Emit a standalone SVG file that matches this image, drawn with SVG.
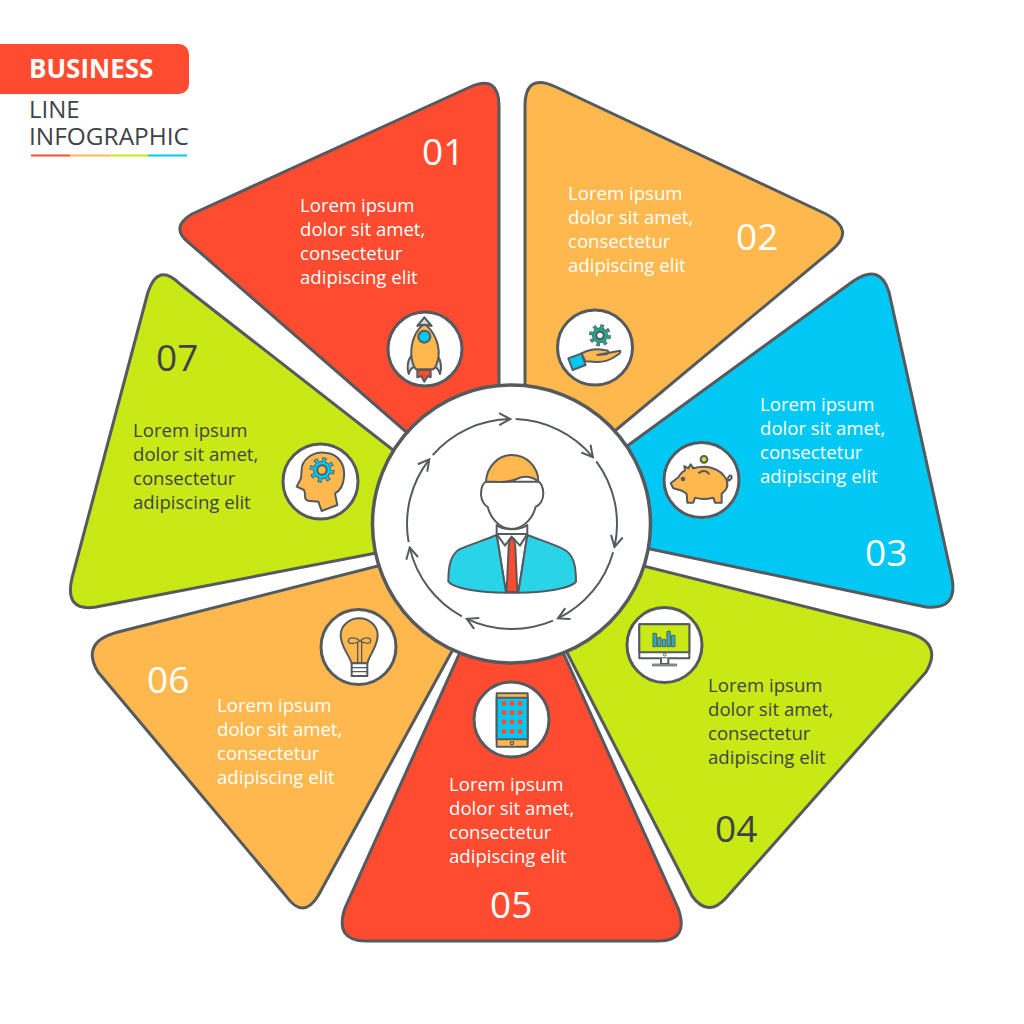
<svg xmlns="http://www.w3.org/2000/svg" xmlns:xlink="http://www.w3.org/1999/xlink" width="1024" height="1024" viewBox="0 0 1024 1024">
<style>
.seg{stroke:#555a5f;stroke-width:3;stroke-linejoin:round}
.red{fill:#ff4b2f}.org{fill:#ffb84d}.blu{fill:#00c8f5}.grn{fill:#c8e916}
.t{font-family:"Open Sans","Liberation Sans",sans-serif;font-size:18.6px}
.n{font-family:"Open Sans","Liberation Sans",sans-serif;font-size:37px}
.w{fill:#fff}.d{fill:#3f4347}
.ic{fill:#fff;stroke:#555a5f;stroke-width:3}
.i *{stroke:#555a5f;stroke-width:6;stroke-linejoin:round}
.arc{fill:none;stroke:#555a5f;stroke-width:2;marker-end:url(#ah)}
</style>
<defs>
<marker id="ah" viewBox="0 0 14 14" refX="12" refY="7" markerWidth="14" markerHeight="14" markerUnits="userSpaceOnUse" orient="auto"><path d="M1 1L12 7L1 13" fill="none" stroke="#555a5f" stroke-width="2"/></marker>
<g id="gear">
<circle r="26" fill="none" stroke="#555a5f" style="stroke-width:14" stroke-dasharray="10 10.42"/>
<circle r="24" fill="#555a5f" style="stroke:none"/>
<circle r="26" fill="none" stroke="currentColor" style="stroke:currentColor;stroke-width:10" stroke-dasharray="6 14.42" stroke-dashoffset="-2"/>
<circle r="21.5" fill="currentColor" style="stroke:none"/>
</g>
</defs>
<rect width="1024" height="1024" fill="#fff"/>

<g id="title">
<rect x="-12" y="44" width="201" height="50" rx="10" fill="#ff4b2f"/>
<text x="29" y="78" font-family="Open Sans,Liberation Sans,sans-serif" font-weight="700" font-size="26" fill="#fff">BUSINESS</text>
<text x="29" y="118" font-family="Open Sans,Liberation Sans,sans-serif" font-size="24" fill="#3f4347">LINE</text>
<text x="29" y="145" font-family="Open Sans,Liberation Sans,sans-serif" font-size="24" fill="#3f4347" textLength="160" lengthAdjust="spacingAndGlyphs">INFOGRAPHIC</text>
<path d="M31 155.500H70" stroke="#ff4b2f" stroke-width="2"/><path d="M70 155.500H110" stroke="#ffb84d" stroke-width="2"/><path d="M110 155.500H148" stroke="#c8e916" stroke-width="2"/><path d="M148 155.500H187" stroke="#00c8f5" stroke-width="2"/>
</g>

<g id="node1">
<path class="seg red" d="M499 400V106Q499 74 470 87L192 214Q170 227 188 242L450 470Z"/>
<text class="n w" x="422" y="165">01</text>
<text class="t w"><tspan x="300" y="212">Lorem ipsum</tspan><tspan x="300" y="236">dolor sit amet,</tspan><tspan x="300" y="260">consectetur</tspan><tspan x="300" y="284">adipiscing elit</tspan></text>
<circle class="ic" cx="425" cy="349" r="37"/>
<g class="i" transform="translate(380 300) scale(.3333)">
<path fill="#d9dcdc" d="M96 165C82 180 80 205 86 222C90 205 100 200 108 200Z"/><path fill="#d9dcdc" d="M170 165C184 180 186 205 180 222C176 205 166 200 158 200Z"/>
<path fill="#ff4b2f" d="M112 210H152V232L143 228L133 245L124 228L112 232Z"/>
<path fill="#ffb84d" d="M133 72C105 90 92 130 94 165C95 190 105 205 108 208H160C165 205 175 185 176 165C178 130 160 90 133 72Z"/>
<path fill="#d9dcdc" d="M112 78L133 52L155 78Q133 70 112 78Z"/>
<circle cx="133" cy="110" r="18" fill="#00c8f5"/>
</g>
</g>

<g id="node2">
<path class="seg org" d="M525 400V106Q525 72 556 87L826 214Q856 230 832 250L580 460Z"/>
<text class="n w" x="736" y="250">02</text>
<text class="t w"><tspan x="568" y="200">Lorem ipsum</tspan><tspan x="568" y="224">dolor sit amet,</tspan><tspan x="568" y="248">consectetur</tspan><tspan x="568" y="272">adipiscing elit</tspan></text>
<circle class="ic" cx="595" cy="347.500" r="37.500"/>
<g class="i" transform="translate(380 300) scale(.3333)">
<use href="#gear" x="660" y="106" color="#1fa98c"/><circle cx="660" cy="106" r="11" fill="#fff"/>
<path fill="#00c8f5" d="M565 175L605 160L617 195L578 210Z"/>
<path fill="#ffb84d" d="M605 160C625 150 650 145 672 150C688 150 690 160 678 163L652 165L720 152Q726 158 708 168C690 180 670 190 640 185L616 184Z"/>
</g>
</g>

<g id="node3">
<path class="seg blu" d="M560 495L852 282Q880 262 889 292L952 578Q958 610 926 607L560 530Z"/>
<text class="n w" x="865" y="566">03</text>
<text class="t w"><tspan x="760" y="411">Lorem ipsum</tspan><tspan x="760" y="435">dolor sit amet,</tspan><tspan x="760" y="459">consectetur</tspan><tspan x="760" y="483">adipiscing elit</tspan></text>
<circle class="ic" cx="701.500" cy="480" r="37.500"/>
<g class="i" transform="translate(650 430) scale(.3333)">
<circle cx="162" cy="88" r="10" fill="#c8e916"/>
<path fill="none" d="M232 148Q240 130 245 140Q245 150 232 152"/>
<path fill="#ffb84d" d="M62 160L85 142C95 125 105 122 105 122L103 108L115 115L122 103L130 115C165 105 210 110 230 150C238 175 222 185 215 192L215 218H195L190 203C170 208 150 208 135 203L130 218H112L110 192C100 180 80 178 70 175Z"/>
<circle cx="99" cy="147" r="4" fill="#ffb84d"/><path fill="none" d="M145 130Q165 115 178 133"/>
</g>
</g>

<g id="node4">
<path class="seg grn" d="M540 540L906 632Q944 642 926 672L726 898Q708 918 692 896L540 600Z"/>
<text class="n d" x="715" y="842">04</text>
<text class="t d"><tspan x="708" y="692">Lorem ipsum</tspan><tspan x="708" y="716">dolor sit amet,</tspan><tspan x="708" y="740">consectetur</tspan><tspan x="708" y="764">adipiscing elit</tspan></text>
<circle class="ic" cx="664.500" cy="645" r="37.500"/>
<g class="i" transform="translate(615 600) scale(.3333)">
<rect x="73" y="73" width="150" height="102" fill="#fff"/><rect x="73" y="73" width="150" height="84" fill="#c8e916"/>
<path fill="#29b6c9" d="M114 100h10v40h-10zM128 113h10v27h-10zM142 119h10v21h-10zM156 94h10v46h-10zM170 106h10v34h-10z" style="stroke-width:3"/>
<circle cx="149" cy="164" r="4" fill="#fff" style="stroke-width:3"/>
<path fill="#fff" d="M138 175V192H160V175"/><rect x="112" y="192" width="73" height="6" fill="#9b9fa2" style="stroke-width:2"/>
</g>
</g>

<g id="node5">
<path class="seg red" d="M470 630L345 908Q334 941 366 941H658Q690 941 678 908L553 630Z"/>
<text class="n w" x="490" y="918">05</text>
<text class="t w"><tspan x="449" y="791">Lorem ipsum</tspan><tspan x="449" y="815">dolor sit amet,</tspan><tspan x="449" y="839">consectetur</tspan><tspan x="449" y="863">adipiscing elit</tspan></text>
<circle class="ic" cx="511.500" cy="719.500" r="37.500"/>
<g class="i" transform="translate(465 675) scale(.3333)">
<rect x="95" y="55" width="93" height="160" fill="#ffb84d"/><rect x="95" y="68" width="93" height="125" fill="#00c8f5"/>
<g fill="#ff4b2f"><rect x="110" y="78" width="14" height="14" rx="3" style="stroke:none"/><rect x="134" y="78" width="14" height="14" rx="3" style="stroke:none"/><rect x="158" y="78" width="14" height="14" rx="3" style="stroke:none"/><rect x="110" y="106" width="14" height="14" rx="3" style="stroke:none"/><rect x="134" y="106" width="14" height="14" rx="3" style="stroke:none"/><rect x="158" y="106" width="14" height="14" rx="3" style="stroke:none"/><rect x="110" y="134" width="14" height="14" rx="3" style="stroke:none"/><rect x="134" y="134" width="14" height="14" rx="3" style="stroke:none"/><rect x="158" y="134" width="14" height="14" rx="3" style="stroke:none"/><rect x="110" y="162" width="14" height="14" rx="3" style="stroke:none"/><rect x="134" y="162" width="14" height="14" rx="3" style="stroke:none"/><rect x="158" y="162" width="14" height="14" rx="3" style="stroke:none"/></g>
<circle cx="141" cy="204" r="5" fill="#ffb84d" style="stroke-width:4"/>
</g>
</g>

<g id="node6">
<path class="seg org" d="M480 540L118 632Q80 642 98 672L286 896Q303 920 318 896L480 600Z"/>
<text class="n w" x="147" y="693">06</text>
<text class="t w"><tspan x="217" y="712">Lorem ipsum</tspan><tspan x="217" y="736">dolor sit amet,</tspan><tspan x="217" y="760">consectetur</tspan><tspan x="217" y="784">adipiscing elit</tspan></text>
<circle class="ic" cx="358.500" cy="647" r="37.500"/>
<g class="i" transform="translate(310 600) scale(.3333)">
<path fill="#ffb84d" d="M125 190C115 160 92 140 92 105C92 75 120 55 148 55C178 55 203 78 203 105C203 140 180 160 172 190Z"/>
<path fill="none" style="stroke-width:4" d="M150 122C135 110 115 112 115 122C115 132 135 134 150 122C165 110 182 112 182 122C182 134 165 132 150 122M143 125V190M155 125V190"/>
<rect x="125" y="190" width="47" height="38" fill="#fff"/><path fill="none" style="stroke-width:4" d="M125 203H172M125 215H172"/>
</g>
</g>

<g id="node7">
<path class="seg grn" d="M470 510L180 284Q158 262 148 292L72 578Q64 612 96 607L470 535Z"/>
<text class="n d" x="156" y="371">07</text>
<text class="t d"><tspan x="133" y="437">Lorem ipsum</tspan><tspan x="133" y="461">dolor sit amet,</tspan><tspan x="133" y="485">consectetur</tspan><tspan x="133" y="509">adipiscing elit</tspan></text>
<circle class="ic" cx="320.500" cy="481.500" r="37.500"/>
<g class="i" transform="translate(270 430) scale(.3333)">
<path fill="#ffb84d" d="M95 120C95 90 125 65 165 68C210 70 225 110 222 140C220 170 205 185 195 190L202 225L155 243L145 215L115 212Q103 210 105 190L102 180L80 170L93 145Z"/>
<use href="#gear" transform="translate(156 120) scale(1.15)" color="#00c8f5"/><circle cx="156" cy="120" r="14" fill="#ffb84d"/>
</g>
</g>

<g id="center">
<circle cx="511.500" cy="524" r="139" fill="#fff" stroke="#555a5f" stroke-width="3.500"/>
<g class="i" transform="translate(370 380) scale(.3333)">
<path fill="#fff" d="M348 305C338 310 333 325 333 345C335 365 345 378 353 380C360 410 385 445 425 447C465 445 490 410 497 380C510 375 520 360 520 340C520 320 510 305 505 305Z"/>
<path fill="#ffb84d" d="M348 305C350 260 385 225 425 225C470 225 505 260 505 305C490 290 465 285 440 297C415 310 385 305 348 305Z"/>
<path fill="#fff" d="M380 435V465L408 638H445L472 465V435C450 452 400 452 380 435Z"/>
<path fill="#29d4e8" d="M380 465C340 482 295 495 265 510C245 525 235 550 235 605C250 625 330 638 408 638Z"/>
<path fill="#29d4e8" d="M472 465C515 482 560 495 585 510C610 525 618 555 618 605C605 625 520 638 445 638Z"/>
<path fill="#ff4b2f" d="M420 476H432L436 500L442 636H410L416 500Z"/>
<path fill="none" d="M380 462H472M380 462L405 497L425 470L450 497L472 462"/>
</g>
</g>

<g id="connectors">
<path class="arc" d="M432.700 455.100A105 105 0 0 1 510.200 419"/>
<path class="arc" d="M515.700 419.100A105 105 0 0 1 592.900 457.100"/>
<path class="arc" d="M596.300 461.400A105 105 0 0 1 614.500 546.900"/>
<path class="arc" d="M613.100 552.200A105 105 0 0 1 558 618.400"/>
<path class="arc" d="M553 620.700A105 105 0 0 1 466.800 618.800"/>
<path class="arc" d="M461.900 616.300A105 105 0 0 1 409.700 547.600"/>
<path class="arc" d="M408.600 542.200A105 105 0 0 1 429.300 459.300"/>
</g>
</svg>
